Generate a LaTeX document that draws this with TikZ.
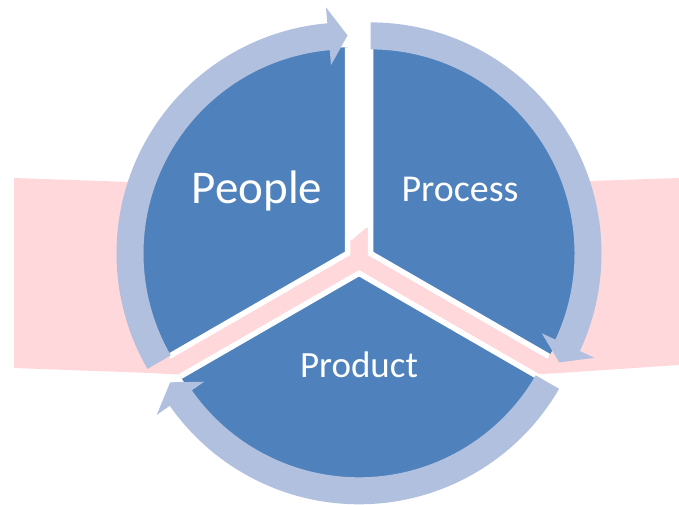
\documentclass[tikz,border=0pt]{standalone}
\usepackage{fontspec}
\setmainfont{Carlito}
\usetikzlibrary{calc}

\definecolor{segblue}{RGB}{79,129,189}
\definecolor{ringblue}{RGB}{176,192,222}
\definecolor{bandpink}{RGB}{255,216,220}

% curved ring arrow: centre, start angle, end angle (clockwise)
\newcommand{\ringarrow}[3]{%
  \fill[ring] ($(#1)+(#2:231)$) arc[start angle=#2, end angle={#3+5}, radius=231]
    -- ($(#1)+({#3+5}:247)$) -- ($(#1)+(#3:218)$) -- ($(#1)+({#3+5}:189)$)
    -- ($(#1)+({#3+5}:204)$) arc[start angle={#3+5}, end angle=#2, radius=204] -- cycle;
}
% sector: centre, start angle, end angle
\newcommand{\sector}[3]{%
  \fill[seg] (#1) -- ++(#2:206) arc[start angle=#2, end angle=#3, radius=206] -- cycle;
  \draw[gap] ($(#1)+(#2:206)$) -- (#1) -- ($(#1)+(#3:206)$);
}

\begin{document}
\begin{tikzpicture}[x=1pt,y=1pt,
  seg/.style={fill=segblue},
  gap/.style={draw=white,line width=5.5pt,line join=miter},
  ring/.style={fill=ringblue},
  lbl/.style={text=white,anchor=base,inner sep=0pt}]
  \useasboundingbox (0,0) rectangle (679,504);

  \coordinate (peo) at (347.5,250.6);
  \coordinate (pro) at (370.5,250.6);
  \coordinate (prd) at (359,230.7);

  % pink band behind the wheel
  \fill[bandpink] (14,326) -- (130,322) -- (352,264) -- (366,276) -- (590,323)
    -- (679,326) -- (679,139) -- (560,131) -- (359,120) -- (150,131)
    -- (14,136) -- cycle;

  % sectors
  \sector{peo}{90}{210}
  \sector{pro}{-30}{90}
  \sector{prd}{210}{330}

  % arrows round the wheel
  \ringarrow{peo}{210}{90}
  \ringarrow{pro}{90}{-30}
  \ringarrow{prd}{330}{210}

  \node[lbl,font=\fontsize{47}{47}\selectfont] (people) at (257,301) {People};
  \node[lbl,font=\fontsize{38}{38}\selectfont] (process) at (460,302) {Process};
  \node[lbl,font=\fontsize{37}{37}\selectfont] (product) at (359,127) {Product};
\end{tikzpicture}
\end{document}
